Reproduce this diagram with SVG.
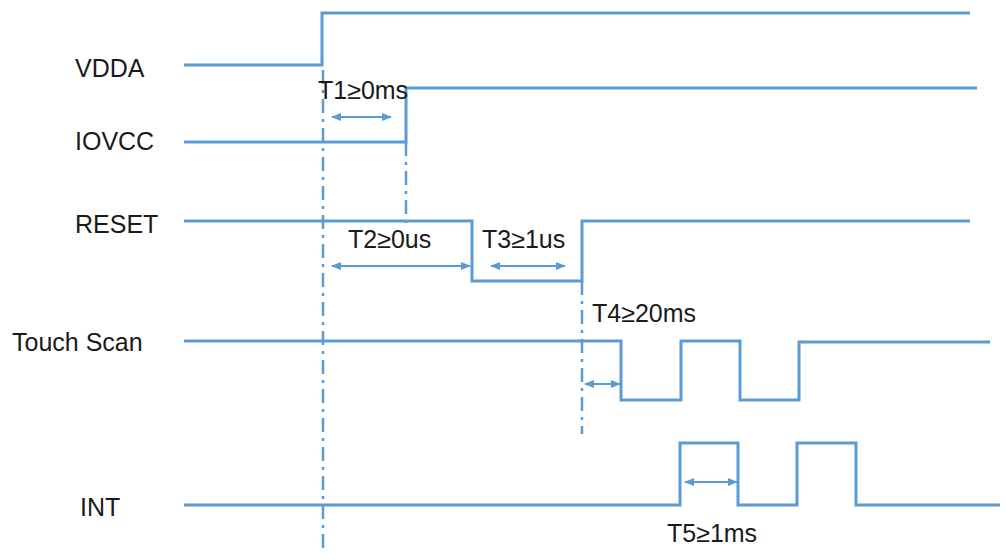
<svg xmlns="http://www.w3.org/2000/svg" width="1006" height="560" viewBox="0 0 1006 560">
<defs>
<marker id="ah" viewBox="0 0 10 10" refX="9" refY="5" markerWidth="5" markerHeight="5" orient="auto-start-reverse" markerUnits="strokeWidth">
<path d="M0,1 L10,5 L0,9 Z" fill="#5B9BD5"/>
</marker>
<style>
.sig{fill:none;stroke:#5B9BD5;stroke-width:3;stroke-linejoin:miter}
.dd{fill:none;stroke:#5B9BD5;stroke-width:2.5;stroke-dasharray:14 6 3 6}
.arr{fill:none;stroke:#5B9BD5;stroke-width:2;marker-start:url(#ah);marker-end:url(#ah)}
.lbl{font-family:"Liberation Sans",Arial,sans-serif;font-size:25px;fill:#1a1a1a}
</style>
</defs>
<rect width="1006" height="560" fill="#ffffff"/>
<g id="connectors">
<path class="dd" d="M323,70 V552"/>
<path class="dd" d="M406,142 V224"/>
<path class="dd" d="M582,281 V434"/>
<path class="arr" d="M332,117 H391"/>
<path class="arr" d="M332,266 H470"/>
<path class="arr" d="M491,266 H565"/>
<path class="arr" d="M585,384 H620"/>
<path class="arr" d="M685,482 H737"/>
</g>
<g id="VDDA">
<text class="lbl" x="75" y="77">VDDA</text>
<path class="sig" d="M184,65 H322 V13 H970"/>
</g>
<g id="IOVCC">
<text class="lbl" x="75" y="150">IOVCC</text>
<path class="sig" d="M184,142 H406 V88 H977"/>
</g>
<g id="RESET">
<text class="lbl" x="75" y="233">RESET</text>
<path class="sig" d="M184,221 H472 V281 H582 V221 H970"/>
</g>
<g id="TouchScan">
<text class="lbl" x="12" y="351">Touch Scan</text>
<path class="sig" d="M184,341 H621 V400 H681 V341 H740 V400 H799 V342 H990"/>
</g>
<g id="INT">
<text class="lbl" x="80" y="516">INT</text>
<path class="sig" d="M184,505 H680 V443 H738 V505 H797 V443 H856 V505 H1000"/>
</g>
<g id="labels">
<text class="lbl" x="318" y="99">T1≥0ms</text>
<text class="lbl" x="348" y="248">T2≥0us</text>
<text class="lbl" x="482" y="248">T3≥1us</text>
<text class="lbl" x="592" y="322">T4≥20ms</text>
<text class="lbl" x="667" y="542">T5≥1ms</text>
</g>
</svg>
